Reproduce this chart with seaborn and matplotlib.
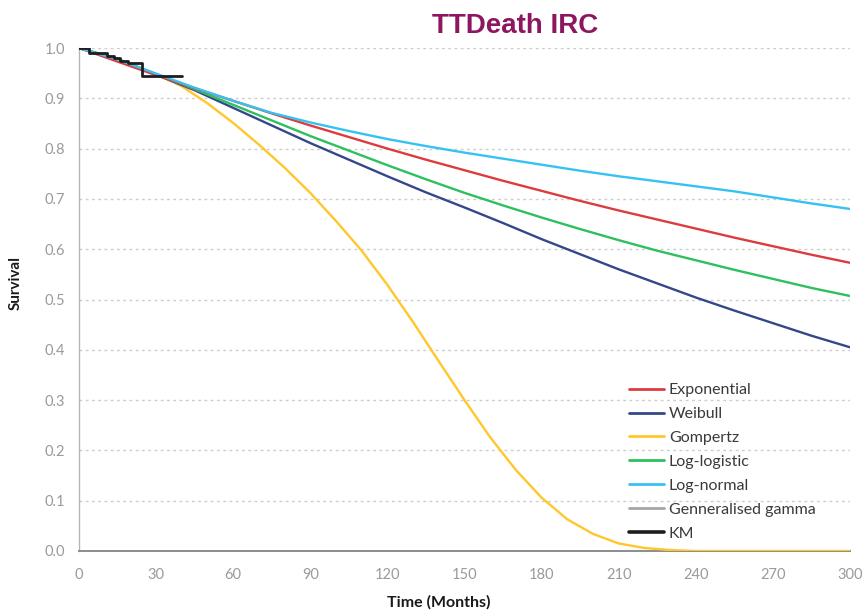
import numpy as np
import pandas as pd
import matplotlib
matplotlib.use("Agg")
import matplotlib.pyplot as plt
from matplotlib.lines import Line2D
import seaborn as sns

# ---- data ----
months = [0, 15, 30, 45, 60, 75, 90, 105, 120, 135, 150, 165, 180, 195, 210,
          225, 240, 255, 270, 285, 300]
exponential = [1.0, 0.973, 0.946, 0.920, 0.895, 0.870, 0.846, 0.823, 0.800, 0.778,
               0.757, 0.736, 0.716, 0.696, 0.677, 0.659, 0.641, 0.623, 0.606, 0.589, 0.573]
weibull = [1.0, 0.978, 0.947, 0.916, 0.881, 0.846, 0.811, 0.778, 0.745, 0.713,
           0.683, 0.652, 0.620, 0.590, 0.560, 0.532, 0.504, 0.478, 0.453, 0.428, 0.405]
log_logistic = [1.0, 0.978, 0.948, 0.918, 0.887, 0.856, 0.825, 0.796, 0.767, 0.739,
                0.712, 0.687, 0.663, 0.640, 0.618, 0.597, 0.578, 0.559, 0.541, 0.523, 0.507]
log_normal = [1.0, 0.977, 0.949, 0.921, 0.895, 0.871, 0.852, 0.835, 0.819, 0.805,
              0.792, 0.780, 0.768, 0.756, 0.745, 0.735, 0.725, 0.715, 0.703, 0.691, 0.680]
gompertz_months = [0, 10, 20, 30, 40, 50, 60, 70, 80, 90, 100, 110, 120, 130, 140,
                   150, 160, 170, 180, 190, 200, 210, 220, 230, 240, 270, 300]
gompertz = [1.0, 0.986, 0.969, 0.948, 0.924, 0.890, 0.851, 0.808, 0.762, 0.712,
            0.656, 0.597, 0.529, 0.455, 0.377, 0.300, 0.226, 0.161, 0.106, 0.063,
            0.034, 0.015, 0.006, 0.002, 0.0, 0.0, 0.0]
km_time = [0, 4, 11, 13.5, 16, 19, 24.5, 40]
km_surv = [1.0, 0.990, 0.985, 0.980, 0.975, 0.970, 0.944, 0.944]

series_names = ["Exponential", "Weibull", "Log-logistic", "Log-normal"]
legend_names = ["Exponential", "Weibull", "Gompertz", "Log-logistic", "Log-normal",
                "Genneralised gamma", "KM"]
x_ticks = [0, 30, 60, 90, 120, 150, 180, 210, 240, 270, 300]
y_ticks = [0.0, 0.1, 0.2, 0.3, 0.4, 0.5, 0.6, 0.7, 0.8, 0.9, 1.0]

colors = {
    "Exponential": "#DC3C3E",
    "Weibull": "#34478A",
    "Gompertz": "#FFC72C",
    "Log-logistic": "#2EBF5E",
    "Log-normal": "#35C2F2",
    "Genneralised gamma": "#A6A6A6",
    "KM": "#1E1E1E",
}

df = pd.DataFrame({
    "Time": months * 4 + gompertz_months,
    "Survival": exponential + weibull + log_logistic + log_normal + gompertz,
    "Model": sum([[n] * len(months) for n in series_names], []) + ["Gompertz"] * len(gompertz_months),
})
km_df = pd.DataFrame({"Time": km_time, "Survival": km_surv})

sns.set_theme(style="white")
plt.rcParams["font.family"] = ["Lato", "DejaVu Sans"]

fig = plt.figure(figsize=(8.66, 6.12), dpi=100)
ax = fig.add_axes([79 / 866, 1 - 551 / 612, (850 - 79) / 866, (551 - 48) / 612])

# horizontal dotted gridlines
for yv in y_ticks[1:]:
    ax.axhline(yv, color="#CDCDCD", linestyle=(0, (2, 2.5)), linewidth=1.0, zorder=0)

order = ["Gompertz", "Weibull", "Log-logistic", "Exponential", "Log-normal"]
for name in order:
    sns.lineplot(data=df[df["Model"] == name], x="Time", y="Survival",
                 color=colors[name], linewidth=1.7, ax=ax, legend=False, zorder=3)
sns.lineplot(data=km_df, x="Time", y="Survival", color=colors["KM"],
             linewidth=2.0, drawstyle="steps-post", ax=ax, legend=False, zorder=5)

ax.set_xlim(0, 300)
ax.set_ylim(0, 1.0)
ax.set_xticks(x_ticks)
ax.set_yticks(y_ticks)
ax.set_yticklabels([f"{v:.1f}" for v in y_ticks])
ax.tick_params(axis="both", colors="#9A9A9A", labelsize=10.5, length=4, width=1,
               direction="out", labelcolor="#9A9A9A")
ax.tick_params(axis="x", pad=8)
ax.tick_params(axis="y", pad=6)
for s in ["top", "right"]:
    ax.spines[s].set_visible(False)
ax.spines["left"].set_color("#B5B5B5")
ax.spines["bottom"].set_color("#8C8C8C")
ax.spines["left"].set_linewidth(1.0)
ax.spines["bottom"].set_linewidth(1.4)
ax.set_xlabel("")
ax.set_ylabel("")

fig.text(439 / 866, 1 - 602 / 612, "Time (Months)", ha="center", va="center",
         fontsize=11.5, fontweight="bold", color="#1A1A1A")
fig.text(16 / 866, 1 - 283 / 612, "Survival", ha="center", va="center",
         rotation=90, fontsize=11, fontweight="bold", color="#1A1A1A")
fig.text(515 / 866, 1 - 26 / 612, "TTDeath IRC", ha="center", va="center",
         fontsize=20, fontweight="bold", color="#8C1760",
         family=["Liberation Sans", "DejaVu Sans"])

handles = [Line2D([0], [0], color=colors[n], linewidth=2.0 if n != "KM" else 2.6)
           for n in legend_names]
leg = fig.legend(handles, legend_names, loc="upper left",
                 bbox_to_anchor=(629 / 866, 1 - 383 / 612), frameon=False,
                 fontsize=11.5, handlelength=2.2, handletextpad=0.3,
                 labelspacing=0.61, borderaxespad=0, borderpad=0)
for t in leg.get_texts():
    t.set_color("#3A3A3A")

fig.savefig("out.png", dpi=100)
